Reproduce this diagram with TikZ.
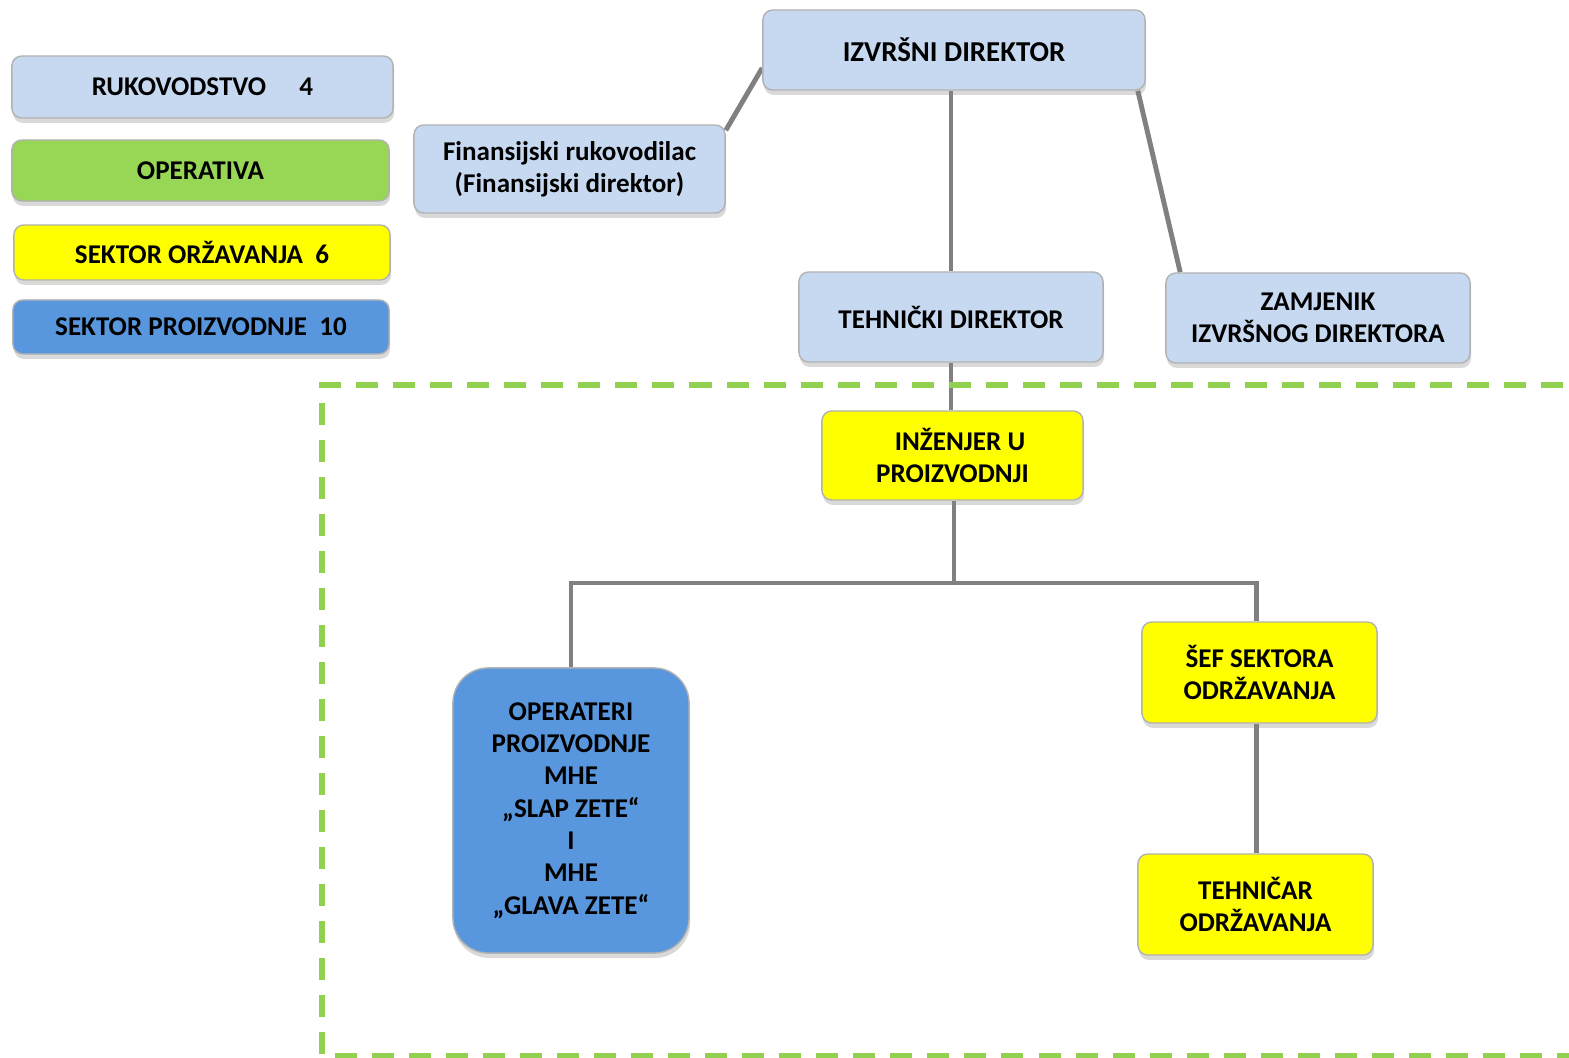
\documentclass[tikz,border=0pt]{standalone}
\usepackage{fontspec}
\setmainfont{Carlito}
\usepackage{xcolor}
\usepackage{tikz}
\usetikzlibrary{positioning, calc, shadows, backgrounds}
\definecolor{headblue}{RGB}{198,217,241}
\definecolor{opgreen}{RGB}{152,214,86}
\definecolor{dashgreen}{RGB}{146,208,80}
\definecolor{maintyellow}{RGB}{255,255,0}
\definecolor{prodblue}{RGB}{88,151,222}
\definecolor{linkgray}{RGB}{128,128,128}
\tikzstyle{unit} = [rectangle, rounded corners=2.8pt, align=center, inner sep=2pt, draw=black!30, line width=0.4pt, font=\fontsize{7.7}{9.2}\selectfont\bfseries, drop shadow={shadow xshift=0.3pt, shadow yshift=-1.4pt, opacity=0.3}]
\tikzstyle{link} = [line width=1.4pt, draw=linkgray]

\begin{document}
\begin{tikzpicture}[x=0.01cm, y=-0.01cm]
\useasboundingbox (0,0) rectangle (1569,1058);
\clip (0,0) rectangle (1569,1058);

% legend
\node[unit, fill=headblue, minimum width=3.81cm, minimum height=0.62cm] (ruk) at (202.5,87) {RUKOVODSTVO\quad\ 4};
\node[unit, fill=opgreen, minimum width=3.77cm, minimum height=0.61cm] (oper) at (200.5,170.5) {OPERATIVA};
\node[unit, fill=maintyellow, minimum width=3.76cm, minimum height=0.55cm] (odrz) at (202,252.5) {SEKTOR ORŽAVANJA\ \ 6};
\node[unit, fill=prodblue, minimum width=3.76cm, minimum height=0.54cm] (proiz) at (201,327) {SEKTOR PROIZVODNJE\ \ 10};

% management
\node[unit, fill=headblue, minimum width=3.82cm, minimum height=0.80cm, font=\fontsize{8.2}{9.8}\selectfont\bfseries] (izv) at (954,50) {IZVRŠNI DIREKTOR};
\node[unit, fill=headblue, minimum width=3.11cm, minimum height=0.88cm] (fin) at (569.5,169) {Finansijski rukovodilac\\(Finansijski direktor)};
\node[unit, fill=headblue, minimum width=3.04cm, minimum height=0.90cm] (teh) at (951,317) {TEHNIČKI DIREKTOR};
\node[unit, fill=headblue, minimum width=3.04cm, minimum height=0.90cm] (zam) at (1318,318) {ZAMJENIK\\IZVRŠNOG DIREKTORA};

% operations
\draw[dashgreen, line width=1.7pt, dash pattern=on 0.22cm off 0.15cm] (1600,385) -- (322,385) -- (322,1056) -- (1600,1056);
\node[unit, fill=maintyellow, minimum width=2.61cm, minimum height=0.89cm] (inz) at (952.5,455.5) {\hspace*{0.15cm}INŽENJER U\\PROIZVODNJI};
\node[unit, fill=prodblue, rounded corners=10pt, minimum width=2.36cm, minimum height=2.85cm] (opr) at (571,810.5) {OPERATERI\\PROIZVODNJE\\MHE\\„SLAP ZETE“\\I\\MHE\\„GLAVA ZETE“};
\node[unit, fill=maintyellow, minimum width=2.35cm, minimum height=1.01cm] (sef) at (1259.5,672.5) {ŠEF SEKTORA\\ODRŽAVANJA};
\node[unit, fill=maintyellow, minimum width=2.35cm, minimum height=1.01cm] (tehn) at (1255.5,904.5) {TEHNIČAR\\ODRŽAVANJA};

\begin{scope}[on background layer]
\draw[link] (teh.north) -- (teh.north |- izv.south);
\draw[link] ($(izv.west)+(0,18)$) -- ($(fin.north east)+(0,6)$);
\draw[link] ($(izv.south east)+(-8,0)$) -- ($(zam.north west)+(15,0)$);
\draw[link] (teh.south) -- (teh.south |- inz.north);
\coordinate (bus) at (954,583);
\draw[link] (inz.south -| bus) -- (bus);
\draw[link] (opr.north) |- (bus) -| ($(sef.north)+(-3,0)$);
\draw[link] ($(sef.south)+(-3,0)$) -- ($(tehn.north)+(1,0)$);
\end{scope}
\end{tikzpicture}
\end{document}
